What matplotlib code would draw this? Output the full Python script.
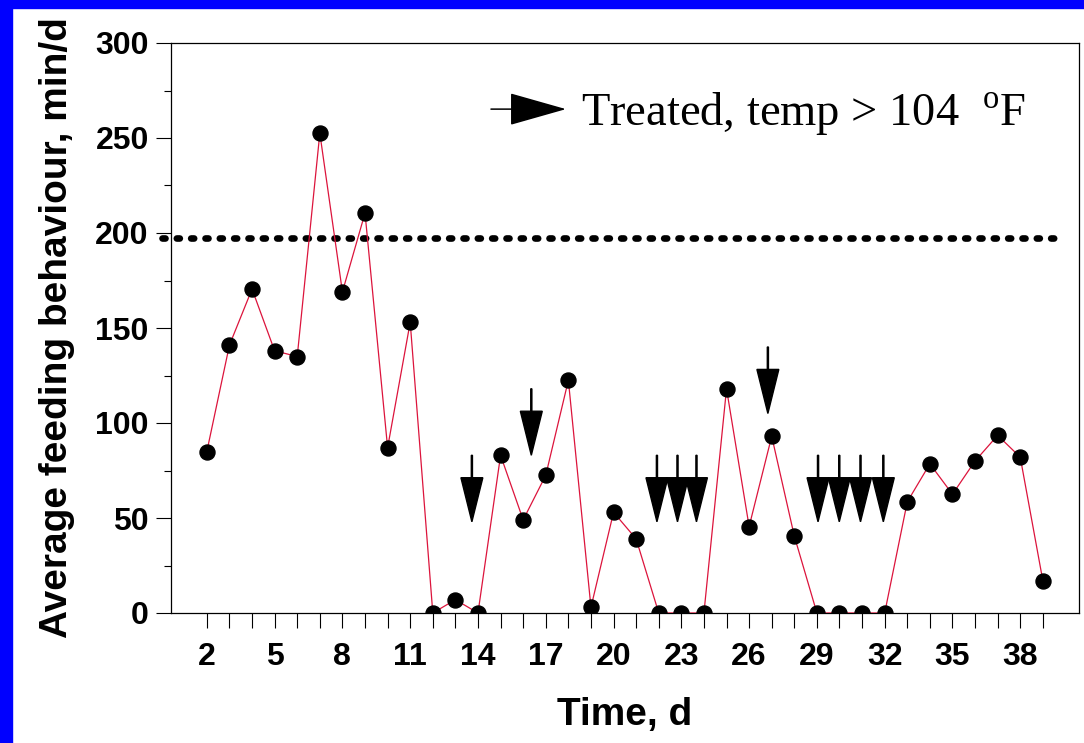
import numpy as np
import matplotlib.pyplot as plt
from matplotlib.patches import Rectangle
from matplotlib.ticker import MultipleLocator

days = np.arange(2, 40)
feeding = [85, 141, 170.5, 138, 135, 252.5, 169, 210.5, 87, 153,
           0, 7, 0, 83, 49, 72.5, 122.5, 3, 53, 39,
           0, 0, 0, 118, 45.5, 93, 40.5, 0, 0, 0,
           0, 58.5, 78.5, 62.5, 80, 93.5, 82, 17]

# treated days (arrows) and where each arrow starts
treated_days = [13.73, 16.36, 21.92, 22.83, 23.67, 26.83, 29.05, 29.99, 30.93, 31.94]
arrow_tops = [83, 118, 83, 83, 83, 140, 83, 83, 83, 83]
arrow_len = 35

threshold = 197.5

plt.rcParams['mathtext.fontset'] = 'custom'
plt.rcParams['mathtext.rm'] = 'Liberation Serif'

fig = plt.figure(figsize=(10.84, 7.43), dpi=100)
fig.patches.append(Rectangle((0, 0), 12 / 1084, 1, transform=fig.transFigure,
                             color='#0000FF', zorder=10))
fig.patches.append(Rectangle((0, 1 - 8 / 743), 1, 8 / 743, transform=fig.transFigure,
                             color='#0000FF', zorder=10))

ax = fig.add_axes([170.7 / 1084, 1 - 613 / 743, 908.3 / 1084, 570 / 743])

ax.plot(days, feeding, color='#DC143C', linewidth=0.9, marker='o',
        markersize=10.8, markerfacecolor='black', markeredgecolor='black', zorder=3)

ax.plot([0, 39.8], [threshold, threshold], color='black', linewidth=4.8,
        dashes=(0.45, 1.7), dash_capstyle='round', clip_on=False, zorder=2)

for d, top in zip(treated_days, arrow_tops):
    ax.arrow(d, top, 0, -arrow_len, width=0.05, head_width=0.97, head_length=23.2,
             length_includes_head=True, color='black', zorder=4)

# legend key
ax.annotate('', xy=(0.4352, 0.884), xytext=(0.3526, 0.884), xycoords='axes fraction',
            arrowprops=dict(arrowstyle='-|>,head_length=3.7,head_width=1.05',
                            mutation_scale=10, color='black', lw=1.1,
                            shrinkA=0, shrinkB=0))
ax.text(0.452, 0.856, r'Treated, temp > 104  $^{\mathrm{o}}$F', transform=ax.transAxes,
        fontsize=33.5, family='Liberation Serif', va='baseline', ha='left')

ax.set_xlim(0.4, 40.6)
ax.set_ylim(0, 300)
ax.set_xticks(days)
ax.set_xticklabels([str(d) if (d - 2) % 3 == 0 else '' for d in days])
ax.yaxis.set_major_locator(MultipleLocator(50))
ax.yaxis.set_minor_locator(MultipleLocator(25))

for lab in ax.get_xticklabels() + ax.get_yticklabels():
    lab.set_fontfamily('Liberation Sans')
    lab.set_fontweight('bold')
    lab.set_fontsize(23)

ax.tick_params(axis='x', which='both', direction='out', length=10.8, width=0.8, pad=10)
ax.tick_params(axis='y', which='major', direction='out', length=10.8, width=0.8, pad=5)
ax.tick_params(axis='y', which='minor', direction='out', length=5, width=0.8)
for s in ax.spines.values():
    s.set_linewidth(0.9)

ax.set_xlabel('Time, d', fontsize=28, fontweight='bold', family='Liberation Sans')
ax.set_ylabel('Average feeding behaviour, min/d', fontsize=28, fontweight='bold',
              family='Liberation Sans')
ax.xaxis.set_label_coords(0.5, -0.1965)
ax.xaxis.label.set_verticalalignment('baseline')
ax.yaxis.set_label_coords(-0.125, 0.5)
ax.yaxis.label.set_verticalalignment('center')

fig.savefig('out.png', dpi=100, facecolor='white')
